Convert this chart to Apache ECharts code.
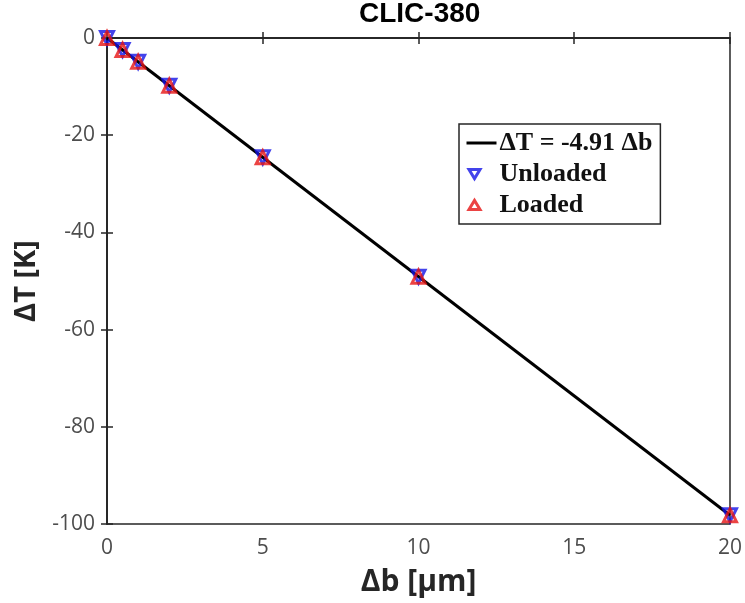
<!DOCTYPE html>
<html>
<head>
<meta charset="utf-8">
<script src="https://cdn.jsdelivr.net/npm/echarts@6/dist/echarts.min.js"></script>
<style>
html, body { margin: 0; padding: 0; background: #fff; }
#main { width: 745px; height: 603px; }
</style>
</head>
<body>
<div id="main"></div>
<script>
// values
var db = [0, 0.5, 1, 2, 5, 10, 20];
var unloaded = [0, -2.46, -4.91, -9.82, -24.55, -49.1, -98.2];
var loaded = [0, -2.46, -4.91, -9.82, -24.55, -49.1, -98.2];
var fitX = [0, 20];
var fitY = [0, -98.2];

function pairs(xs, ys) {
	var d = [];
	for (var i = 0; i < xs.length; i++) {
		d.push([xs[i], ys[i]]);
	}
	return d;
}

var chart = echarts.init(document.getElementById('main'));
var axisColor = '#262626';
var blue = '#1414e6';
var red = '#e61414';
var axisLine = { lineStyle: { color: axisColor, width: 1.5 } };
var axisTick = { inside: true, length: 6, lineStyle: { color: axisColor, width: 1.5 } };
// legend icons: the first two moveTo points fix the 30x13 box so nothing is stretched
var lineIcon = 'path://M0,0 M30,13 M0,5 L30,5 L30,8 L0,8 Z';
var downIcon = 'path://M0,0 M30,13 M2.5,2 L13.5,2 L8,11 Z';
var upIcon = 'path://M0,0 M30,13 M2.5,11 L13.5,11 L8,2 Z';
var option = {
	animation: false,
	title: {
		text: 'CLIC-380',
		left: 359,
		top: 0,
		padding: 0,
		textStyle: {
			fontSize: 28,
			fontWeight: 'bold',
			fontFamily: 'Liberation Sans',
			color: '#000'
		}
	},
	grid: {
		left: 107,
		right: 15,
		top: 38,
		bottom: 79,
		show: true,
		borderColor: axisColor,
		borderWidth: 1.5
	},
	legend: {
		orient: 'vertical',
		left: 459,
		top: 124,
		padding: [6, 8, 6, 6],
		itemGap: 5,
		itemWidth: 30,
		itemHeight: 13,
		backgroundColor: '#fff',
		borderColor: axisColor,
		borderWidth: 1.5,
		textStyle: {
			fontFamily: 'Liberation Serif',
			fontWeight: 'bold',
			fontSize: 26,
			color: '#111',
			padding: [0, 0, 0, -2]
		},
		data: [
			{ name: '\u0394T = -4.91 \u0394b', icon: lineIcon, itemStyle: { color: '#000', borderWidth: 0 } },
			{ name: 'Unloaded', icon: downIcon, itemStyle: { color: 'rgba(0,0,0,0)', borderColor: blue, borderWidth: 3 } },
			{ name: 'Loaded', icon: upIcon, itemStyle: { color: 'rgba(0,0,0,0)', borderColor: red, borderWidth: 3 } }
		]
	},
	xAxis: [{
		type: 'value',
		min: 0,
		max: 20,
		interval: 5,
		name: '\u0394b [\u03bcm]',
		nameLocation: 'middle',
		nameGap: 43,
		nameTextStyle: {
			fontSize: 30,
			fontWeight: 'bold',
			fontFamily: 'Open Sans',
			color: axisColor
		},
		axisLine: axisLine,
		axisTick: axisTick,
		axisLabel: { color: '#4d4d4d', fontSize: 21, fontFamily: 'Open Sans', margin: 14 },
		splitLine: { show: false }
	}, {
		type: 'value',
		position: 'top',
		min: 0,
		max: 20,
		interval: 5,
		axisLine: axisLine,
		axisTick: axisTick,
		axisLabel: { show: false },
		splitLine: { show: false }
	}],
	yAxis: [{
		type: 'value',
		min: -100,
		max: 0,
		interval: 20,
		name: '\u0394T [K]',
		nameLocation: 'middle',
		nameGap: 61,
		nameTextStyle: {
			fontSize: 29,
			fontWeight: 'bold',
			fontFamily: 'Open Sans',
			color: axisColor
		},
		axisLine: axisLine,
		axisTick: axisTick,
		axisLabel: { color: '#4d4d4d', fontSize: 21, fontFamily: 'Open Sans', margin: 12 },
		splitLine: { show: false }
	}, {
		type: 'value',
		position: 'right',
		min: -100,
		max: 0,
		interval: 20,
		axisLine: axisLine,
		axisTick: axisTick,
		axisLabel: { show: false },
		splitLine: { show: false }
	}],
	series: [{
		name: '\u0394T = -4.91 \u0394b',
		type: 'line',
		data: pairs(fitX, fitY),
		symbol: 'none',
		lineStyle: { color: '#000', width: 3 },
		itemStyle: { color: '#000' },
		z: 2
	}, {
		name: 'Unloaded',
		type: 'scatter',
		data: pairs(db, unloaded),
		symbol: 'triangle',
		symbolRotate: 180,
		symbolSize: 13,
		itemStyle: { color: 'rgba(0,0,0,0)', borderColor: blue, borderWidth: 3 },
		z: 3
	}, {
		name: 'Loaded',
		type: 'scatter',
		data: pairs(db, loaded),
		symbol: 'triangle',
		symbolSize: 13,
		itemStyle: { color: 'rgba(0,0,0,0)', borderColor: red, borderWidth: 3 },
		z: 4
	}]
};
chart.setOption(option);
</script>
</body>
</html>
